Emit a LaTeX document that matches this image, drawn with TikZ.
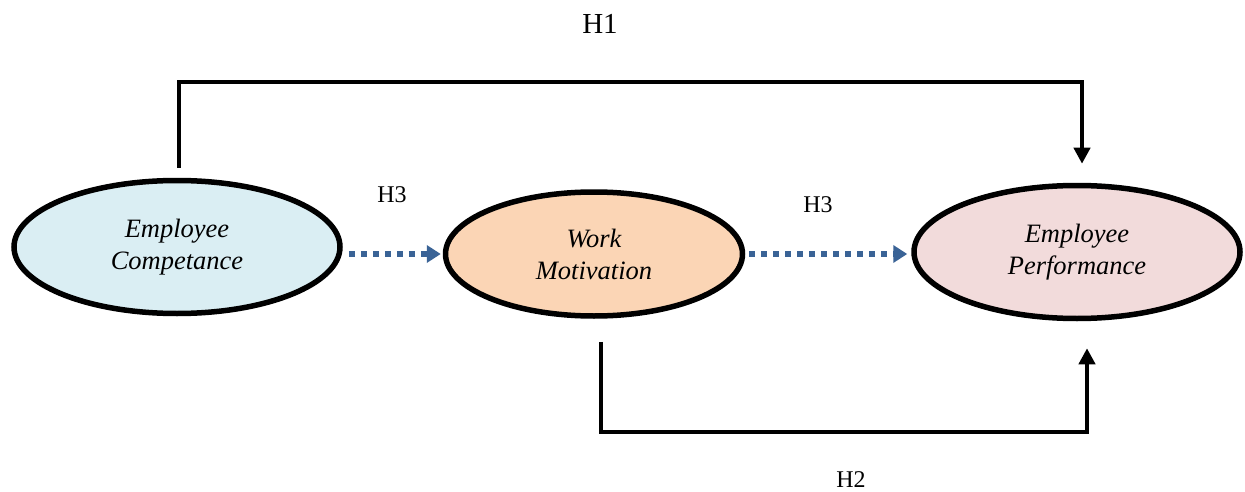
\documentclass[tikz,border=0pt]{standalone}
\usepackage{fontspec}
\setmainfont{Liberation Serif}
\usetikzlibrary{shapes.geometric,arrows.meta}
\definecolor{cblue}{HTML}{DAEEF3}
\definecolor{corange}{HTML}{FBD5B5}
\definecolor{cpink}{HTML}{F2DBDB}
\definecolor{dotblue}{HTML}{3A6396}
\tikzset{
  construct/.style={ellipse, draw=black, line width=5.5pt, inner sep=0pt,
    font=\fontsize{26.5}{32}\selectfont\itshape, align=center},
  blkarrow/.style={draw=black, line width=4pt, -{Triangle[length=16pt,width=16pt]}},
  dotarrow/.style={draw=dotblue, line width=5.5pt, dash pattern=on 6pt off 6pt,
    -{Triangle[length=14pt,width=17pt,fill=dotblue]}},
  hlabel/.style={font=\fontsize{24}{28}\selectfont, inner sep=0pt},
}
\begin{document}
\begin{tikzpicture}[x=1pt,y=-1pt]
\useasboundingbox (0,0) rectangle (1245,492);
\node[construct, fill=cblue, minimum width=326pt, minimum height=133pt] (e1) at (177,247) {Employee\\Competance};
\node[construct, fill=corange, minimum width=297pt, minimum height=124pt] (e2) at (594,254) {Work\\Motivation};
\node[construct, fill=cpink, minimum width=326pt, minimum height=133pt] (e3) at (1077,252) {Employee\\Performance};

\node[hlabel, font=\fontsize{29}{33}\selectfont] (h1) at (600,24) {H1};
\node[hlabel] (h3a) at (392,195) {H3};
\node[hlabel] (h3b) at (818,205) {H3};
\node[hlabel] (h2) at (851,480) {H2};

\coordinate (a1) at ([xshift=6pt,yshift=-7pt]e1.east);
\coordinate (b1) at ([xshift=-2pt]e2.west);
\draw[dotarrow] (a1) -- (b1);
\coordinate (a2) at ([xshift=4pt]e2.east);
\coordinate (b2) at ([xshift=-4pt,yshift=-2pt]e3.west);
\draw[dotarrow] (a2) -- (b2);

\coordinate (s1) at ([xshift=2pt,yshift=10pt]e1.north);
\coordinate (t1) at ([xshift=5pt,yshift=19pt]e3.north);
\draw[blkarrow, line join=miter] (s1) -- ++(0,-86) -| (t1);

\coordinate (s2) at ([xshift=7pt,yshift=-23pt]e2.south);
\coordinate (t2) at ([xshift=10pt,yshift=-27pt]e3.south);
\draw[blkarrow, line join=miter] (s2) -- ++(0,90) -| (t2);
\end{tikzpicture}
\end{document}
